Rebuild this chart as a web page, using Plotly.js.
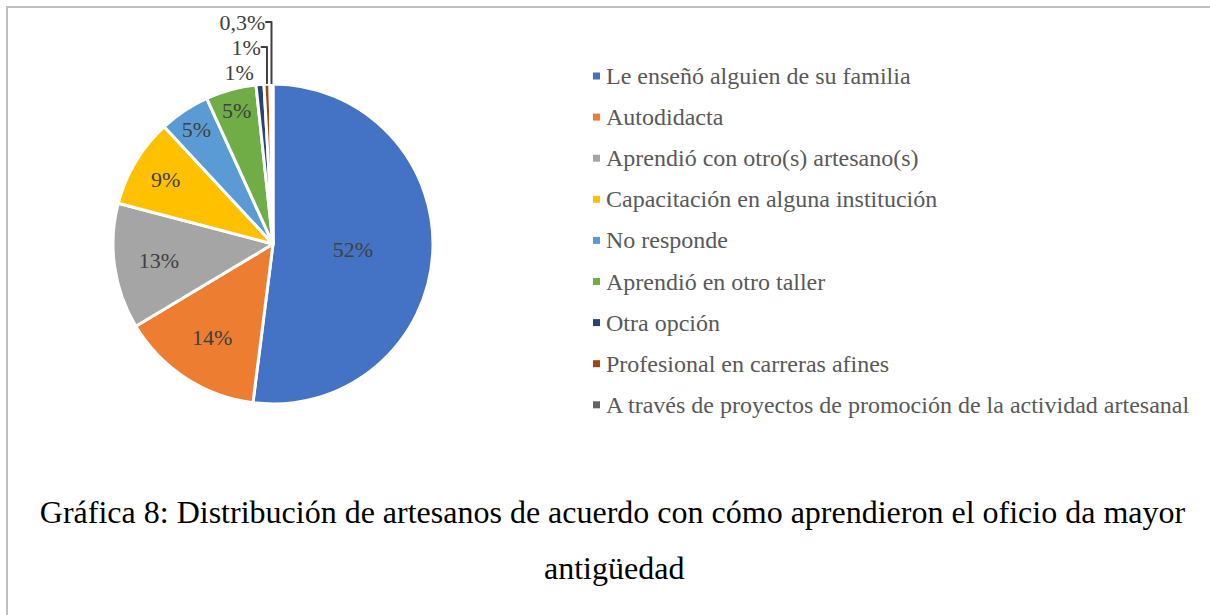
<!DOCTYPE html>
<html><head><meta charset="utf-8">
<script src="https://cdn.plot.ly/plotly-3.0.1.min.js"></script>
<style>html,body{margin:0;padding:0;background:#fff}#chart{width:1210px;height:615px}</style>
</head><body><div id="chart"></div>
<script>
// ---- data ----
const categories = [
  "Le enseñó alguien de su familia",
  "Autodidacta",
  "Aprendió con otro(s) artesano(s)",
  "Capacitación en alguna institución",
  "No responde",
  "Aprendió en otro taller",
  "Otra opción",
  "Profesional en carreras afines",
  "A través de proyectos de promoción de la actividad artesanal"
];
const values = [52, 14.4, 12.7, 9.0, 5.1, 5.1, 0.8, 0.6, 0.3];
const colors = ["#4472C4", "#ED7D31", "#A5A5A5", "#FFC000", "#5B9BD5", "#70AD47", "#264478", "#9E480E", "#636363"];
const titleLine1 = "Gráfica 8: Distribución de artesanos de acuerdo con cómo aprendieron el oficio da mayor";
const titleLine2 = "antigüedad";

// ---- layout helpers ----
const W = 1210, H = 615;
const px = x => x / W;
const py = y => 1 - y / H;
const SERIF = "Liberation Serif, Times New Roman, serif";

const trace = {
  type: "pie",
  labels: categories,
  values: values,
  sort: false,
  direction: "clockwise",
  rotation: 0,
  marker: { colors: colors, line: { color: "#ffffff", width: 3 } },
  texttemplate: values.map(v => v < 0.5 ? "%{percent:.1%}" : "%{percent:.0%}"),
  textposition: values.map(v => v >= 5 ? "inside" : "outside"),
  insidetextorientation: "horizontal",
  textfont: { family: SERIF, size: 22, color: "#404040" },
  insidetextfont: { family: SERIF, size: 22, color: "#404040" },
  outsidetextfont: { family: SERIF, size: 22, color: "#404040" },
  domain: { x: [px(113), px(433)], y: [py(404), py(84)] },
  hoverinfo: "label+percent",
  showlegend: false
};

// legend drawn as text + small squares, one row per category
const legX = 604, legY0 = 76, legStep = 41.1;
const annotations = categories.map((c, i) => ({
  text: c, xref: "paper", yref: "paper",
  x: px(legX), y: py(legY0 + i * legStep), xanchor: "left", yanchor: "middle",
  showarrow: false,
  font: { family: SERIF, size: 24, color: "#595959" }
}));
annotations.push({
  text: titleLine2, xref: "paper", yref: "paper", x: px(614), y: py(568),
  xanchor: "center", yanchor: "middle", showarrow: false,
  font: { family: SERIF, size: 32, color: "#000000" }
});

const shapes = colors.map((col, i) => ({
  type: "rect", xref: "paper", yref: "paper",
  x0: px(593), x1: px(600),
  y0: py(legY0 + i * legStep + 3.5), y1: py(legY0 + i * legStep - 3.5),
  fillcolor: col, line: { width: 0 }
}));
// frame (left and top edges)
shapes.push({ type: "line", xref: "paper", yref: "paper", x0: px(7), x1: px(7), y0: 0, y1: py(6), line: { color: "#BFBFBF", width: 2 } });
shapes.push({ type: "line", xref: "paper", yref: "paper", x0: px(6), x1: 1, y0: py(7), y1: py(7), line: { color: "#BFBFBF", width: 2 } });

const layout = {
  width: W, height: H,
  margin: { l: 0, r: 0, t: 0, b: 0 },
  paper_bgcolor: "#ffffff",
  separators: ",.",
  showlegend: false,
  title: {
    text: titleLine1,
    x: px(612.5), xanchor: "center", y: py(512), yanchor: "middle", yref: "container",
    font: { family: SERIF, size: 32, color: "#000000" }
  },
  annotations: annotations,
  shapes: shapes
};

Plotly.newPlot("chart", [trace], layout, { displayModeBar: false, staticPlot: true });
</script>
</body></html>
